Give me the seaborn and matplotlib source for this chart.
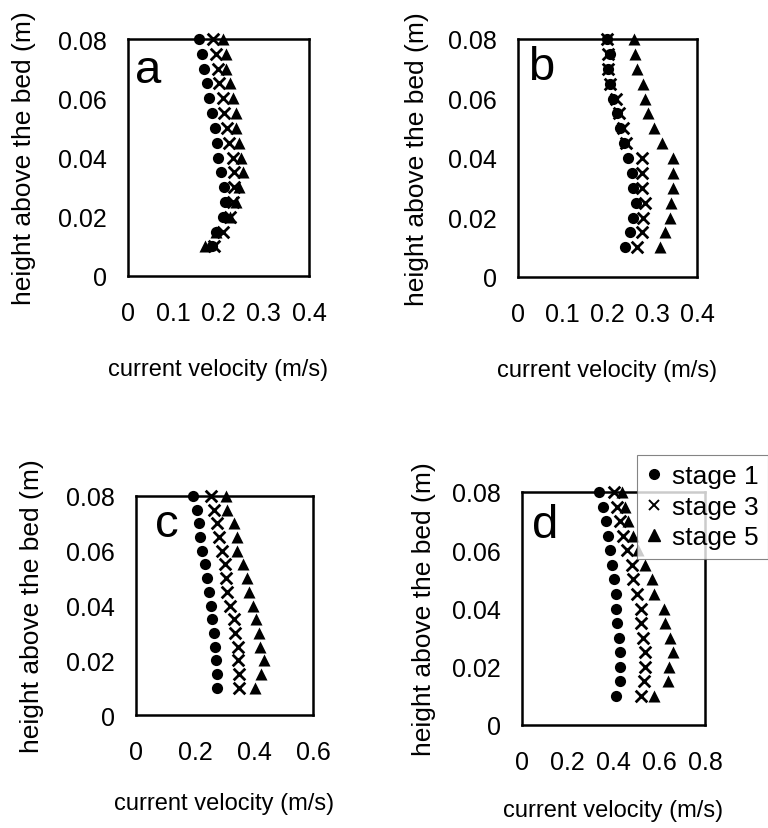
import matplotlib
matplotlib.use("Agg")
import matplotlib.pyplot as plt
import seaborn as sns
import pandas as pd
from matplotlib.lines import Line2D

sns.set_style("white")
plt.rcParams['font.family'] = ['Liberation Sans', 'DejaVu Sans']
plt.rcParams['text.color'] = 'black'
plt.rcParams['axes.labelcolor'] = 'black'
plt.rcParams['xtick.color'] = 'black'
plt.rcParams['ytick.color'] = 'black'

heights = [0.08, 0.075, 0.07, 0.065, 0.06, 0.055, 0.05, 0.045,
           0.04, 0.035, 0.03, 0.025, 0.02, 0.015, 0.01]

a_stage1 = [0.157, 0.164, 0.167, 0.174, 0.179, 0.185, 0.192, 0.196,
            0.199, 0.206, 0.212, 0.214, 0.211, 0.195, 0.185]
a_stage3 = [0.188, 0.195, 0.198, 0.202, 0.210, 0.213, 0.218, 0.224,
            0.232, 0.234, 0.235, 0.232, 0.226, 0.210, 0.190]
a_stage5 = [0.211, 0.217, 0.217, 0.226, 0.232, 0.239, 0.239, 0.245,
            0.250, 0.254, 0.245, 0.239, 0.226, 0.195, 0.171]

b_stage1 = [0.198, 0.205, 0.200, 0.205, 0.213, 0.222, 0.228, 0.237,
            0.246, 0.254, 0.257, 0.263, 0.257, 0.250, 0.239]
b_stage3 = [0.198, 0.200, 0.202, 0.205, 0.220, 0.226, 0.235, 0.241,
            0.276, 0.276, 0.278, 0.284, 0.280, 0.278, 0.267]
b_stage5 = [0.259, 0.261, 0.265, 0.280, 0.284, 0.291, 0.304, 0.321,
            0.347, 0.347, 0.347, 0.343, 0.340, 0.328, 0.317]

c_stage1 = [0.194, 0.207, 0.215, 0.216, 0.224, 0.233, 0.239, 0.247,
            0.253, 0.259, 0.264, 0.267, 0.271, 0.275, 0.273]
c_stage3 = [0.255, 0.264, 0.273, 0.281, 0.293, 0.300, 0.305, 0.309,
            0.320, 0.331, 0.337, 0.345, 0.345, 0.349, 0.349]
c_stage5 = [0.305, 0.309, 0.332, 0.341, 0.343, 0.364, 0.375, 0.382,
            0.398, 0.406, 0.417, 0.422, 0.434, 0.425, 0.403]

d_stage1 = [0.335, 0.356, 0.368, 0.374, 0.383, 0.393, 0.403, 0.412,
            0.412, 0.415, 0.426, 0.429, 0.429, 0.429, 0.412]
d_stage3 = [0.403, 0.417, 0.429, 0.440, 0.458, 0.480, 0.487, 0.502,
            0.519, 0.519, 0.531, 0.538, 0.538, 0.534, 0.519]
d_stage5 = [0.436, 0.451, 0.465, 0.487, 0.509, 0.538, 0.567, 0.575,
            0.621, 0.625, 0.647, 0.659, 0.644, 0.640, 0.577]

stages = ["stage 1", "stage 3", "stage 5"]
panel_letters = ["a", "b", "c", "d"]
y_ticks = [0, 0.02, 0.04, 0.06, 0.08]
y_ticklabels = ["0", "0.02", "0.04", "0.06", "0.08"]
x_ticks_small = [0, 0.1, 0.2, 0.3, 0.4]
x_ticklabels_small = ["0", "0.1", "0.2", "0.3", "0.4"]
x_ticks_c = [0, 0.2, 0.4, 0.6]
x_ticklabels_c = ["0", "0.2", "0.4", "0.6"]
x_ticks_d = [0, 0.2, 0.4, 0.6, 0.8]
x_ticklabels_d = ["0", "0.2", "0.4", "0.6", "0.8"]

panels = {
    "a": (a_stage1, a_stage3, a_stage5, x_ticks_small, x_ticklabels_small),
    "b": (b_stage1, b_stage3, b_stage5, x_ticks_small, x_ticklabels_small),
    "c": (c_stage1, c_stage3, c_stage5, x_ticks_c, x_ticklabels_c),
    "d": (d_stage1, d_stage3, d_stage5, x_ticks_d, x_ticklabels_d),
}

W, H = 768, 829
fig = plt.figure(figsize=(W / 100, H / 100), dpi=100)

# pixel boxes: left, right, top, bottom
boxes = {
    "a": (128, 309, 40, 277),
    "b": (518, 697, 40, 278),
    "c": (136, 313, 497, 716),
    "d": (522, 705, 493, 726),
}
xlabelpads = {"a": 24, "b": 24, "c": 20, "d": 18}
ylabelpads = {"a": 16, "b": 14, "c": 16, "d": 12}
letter_pos = {"a": (0.04, 0.819), "b": (0.056, 0.832),
              "c": (0.107, 0.817), "d": (0.055, 0.807)}

markers = {"stage 1": "o", "stage 3": "x", "stage 5": "^"}
sizes = {"stage 1": 65, "stage 3": 70, "stage 5": 75}

TICK_FS = 18
XL_FS = 17
YL_FS = 19
for letter in panel_letters:
    s1, s3, s5, xt, xtl = panels[letter]
    l, r, t, b = boxes[letter]
    ax = fig.add_axes([l / W, 1 - b / H, (r - l) / W, (b - t) / H])
    df = pd.DataFrame({
        "height": heights * 3,
        "velocity": s1 + s3 + s5,
        "stage": ["stage 1"] * len(heights) + ["stage 3"] * len(heights)
                 + ["stage 5"] * len(heights),
    })
    for st in stages:
        sub = df[df["stage"] == st]
        kw = dict(edgecolor="black", linewidth=0) if st != "stage 3" else dict(linewidth=2.0)
        sns.scatterplot(data=sub, x="velocity", y="height", marker=markers[st],
                        color="black", s=sizes[st], ax=ax, clip_on=False,
                        legend=False, zorder=3, **kw)
    ax.set_xlim(xt[0], xt[-1])
    ax.set_ylim(0, 0.08)
    ax.set_xticks(xt)
    ax.set_xticklabels(xtl)
    ax.set_yticks(y_ticks)
    ax.set_yticklabels(y_ticklabels)
    ax.tick_params(axis="both", direction="inout", length=10, width=0.7,
                   color="#555555", labelsize=TICK_FS, labelcolor="black")
    ax.tick_params(axis="x", pad=13)
    ax.tick_params(axis="y", pad=10)
    for sp in ax.spines.values():
        sp.set_linewidth(1.8)
        sp.set_color("black")
    ax.set_xlabel("current velocity (m/s)", fontsize=XL_FS,
                  labelpad=xlabelpads[letter], color="black")
    ax.set_ylabel("height above the bed (m)", fontsize=YL_FS,
                  labelpad=ylabelpads[letter], color="black")
    lx, ly = letter_pos[letter]
    ax.text(lx, ly, letter, transform=ax.transAxes, fontsize=34,
            va="baseline", ha="left", color="black")

handles = [
    Line2D([], [], marker="o", linestyle="none", color="black", markersize=7),
    Line2D([], [], marker="x", linestyle="none", color="black", markersize=7,
           markeredgewidth=1.4),
    Line2D([], [], marker="^", linestyle="none", color="black", markersize=8),
]
leg = fig.legend(handles, stages, loc="upper right",
                 bbox_to_anchor=(1.0, 1 - 456 / H), fontsize=19,
                 frameon=True, fancybox=False, handlelength=0.6,
                 handletextpad=0.4, borderpad=0.35, labelspacing=0.25,
                 borderaxespad=0)
leg.get_frame().set_edgecolor("#666666")
leg.get_frame().set_linewidth(0.8)
leg.set_zorder(10)

fig.savefig("out.png", dpi=100)
